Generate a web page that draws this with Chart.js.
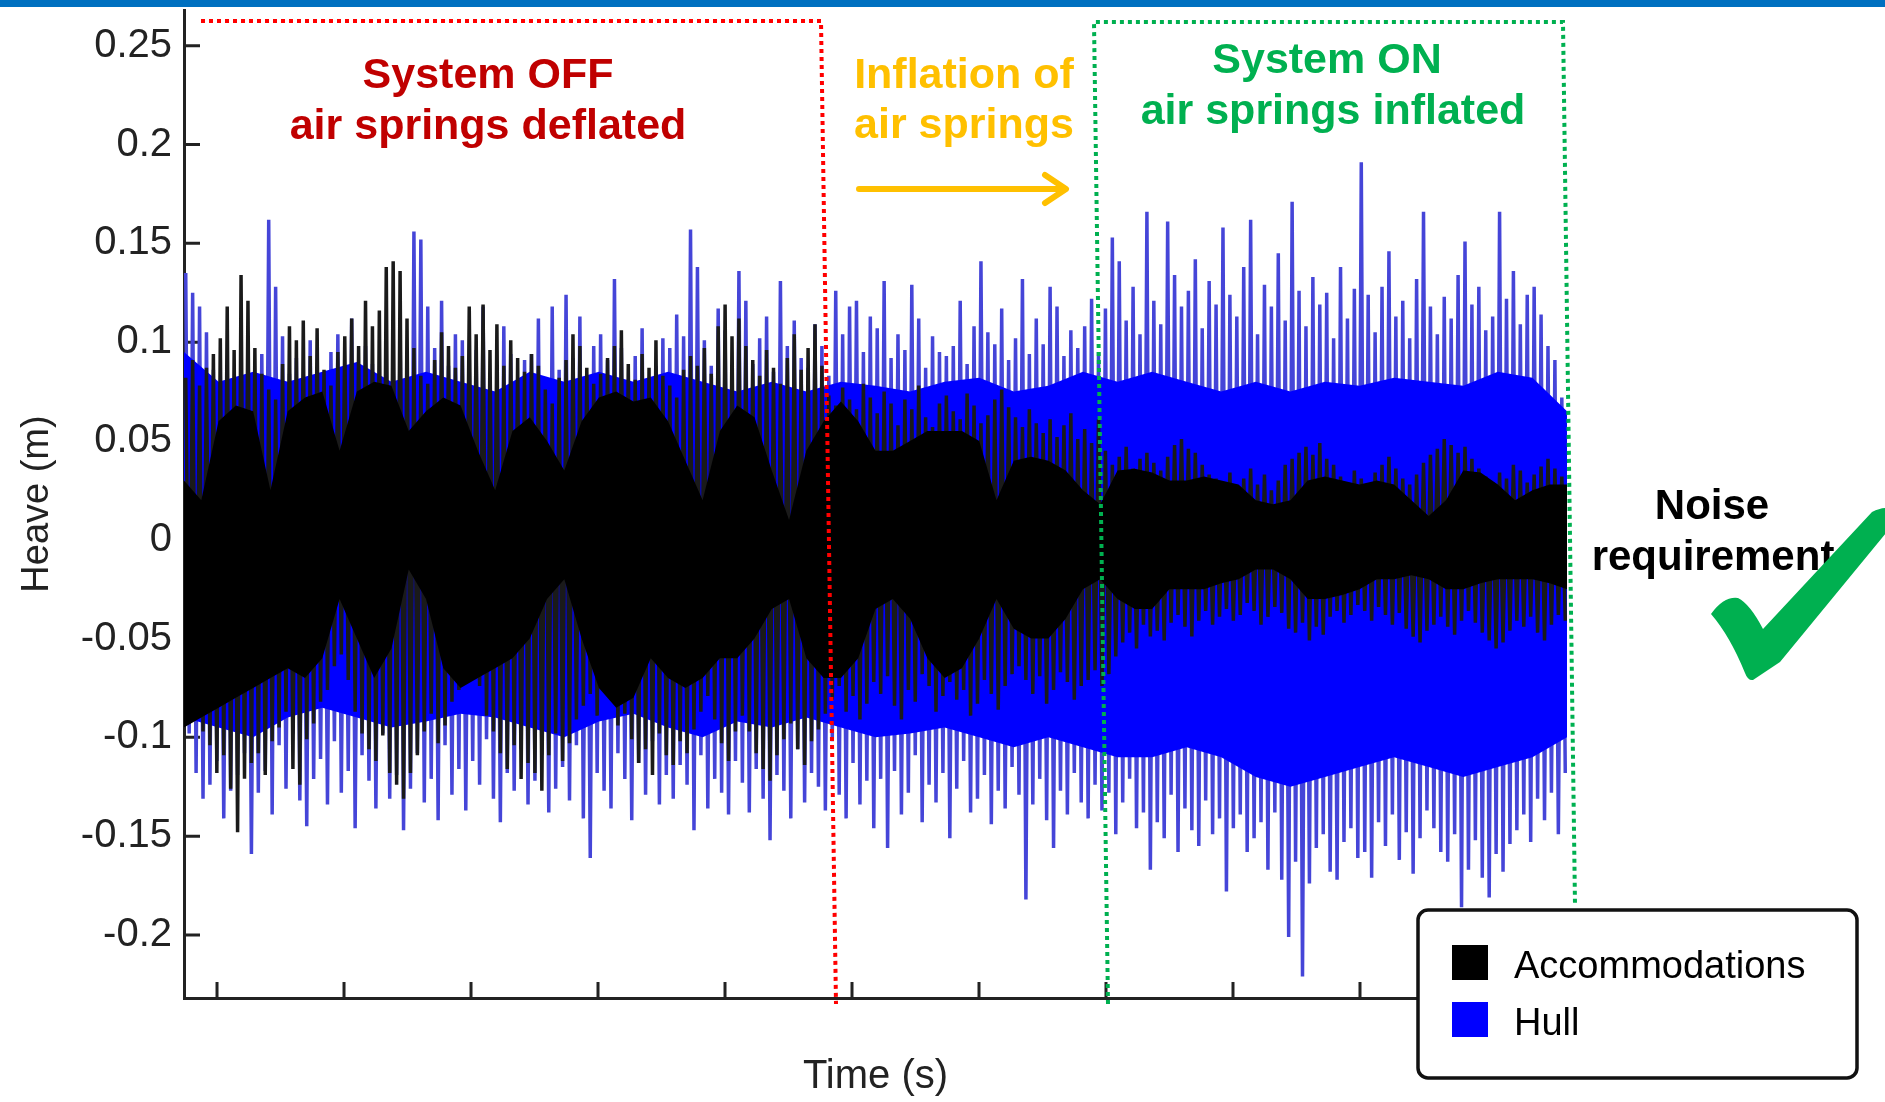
<!DOCTYPE html>
<html lang="en">
<head>
<meta charset="UTF-8">
<title>Heave - Accommodations vs Hull</title>
<script src="https://cdn.jsdelivr.net/npm/chart.js"></script>
<style>
  html, body { margin: 0; padding: 0; background: #fff; }
  #wrap { position: relative; width: 1885px; height: 1102px; }
  canvas { display: block; }
</style>
</head>
<body>
<div id="wrap"><canvas id="grafico" width="1885" height="1102"></canvas></div>

<script>
// --- data ----------------------------------------------------------------
const seriesNames = ['Accommodations', 'Hull'];
const yTicks = [-0.2, -0.15, -0.1, -0.05, 0, 0.05, 0.1, 0.15, 0.2, 0.25];
const xTicks = [0, 100, 200, 300, 400, 500, 600, 700, 800, 900, 1000];
const timeRange = [-26, 1063];
const heaveRange = [-0.2319, 0.2681];

// hull: local maxima / minima of each sample (200 samples)
const hullHi = [
  0.135, 0.125, 0.118, 0.105, 0.086, 0.072, 0.079, 0.066, 0.083, 0.074,
  0.082, 0.094, 0.162, 0.128, 0.103, 0.084, 0.092, 0.071, 0.101, 0.086,
  0.078, 0.095, 0.104, 0.083, 0.112, 0.076, 0.098, 0.089, 0.072, 0.085,
  0.092, 0.108, 0.095, 0.156, 0.152, 0.118, 0.097, 0.121, 0.088, 0.104,
  0.101, 0.087, 0.096, 0.118, 0.082, 0.079, 0.108, 0.094, 0.073, 0.091,
  0.094, 0.112, 0.081, 0.118, 0.086, 0.124, 0.092, 0.113, 0.079, 0.098,
  0.104, 0.091, 0.132, 0.097, 0.081, 0.093, 0.107, 0.076, 0.088, 0.102,
  0.097, 0.114, 0.103, 0.157, 0.138, 0.101, 0.088, 0.117, 0.106, 0.083,
  0.136, 0.121, 0.089, 0.102, 0.113, 0.085, 0.131, 0.098, 0.111, 0.092,
  0.087, 0.109, 0.098, 0.083, 0.126, 0.104, 0.118, 0.121, 0.095, 0.113,
  0.107, 0.131, 0.092, 0.104, 0.096, 0.129, 0.112, 0.087, 0.103, 0.095,
  0.093, 0.098, 0.121, 0.089, 0.108, 0.141, 0.105, 0.099, 0.117, 0.091,
  0.102, 0.132, 0.094, 0.112, 0.099, 0.128, 0.118, 0.093, 0.106, 0.097,
  0.108, 0.122, 0.095, 0.117, 0.153, 0.141, 0.111, 0.128, 0.104, 0.166,
  0.121, 0.109, 0.161, 0.134, 0.118, 0.126, 0.142, 0.107, 0.131, 0.119,
  0.158, 0.124, 0.113, 0.138, 0.162, 0.104, 0.129, 0.118, 0.145, 0.111,
  0.171, 0.126, 0.108, 0.133, 0.119, 0.125, 0.102, 0.138, 0.112, 0.127,
  0.191, 0.124, 0.105, 0.128, 0.146, 0.113, 0.121, 0.102, 0.132, 0.166,
  0.118, 0.104, 0.123, 0.112, 0.134, 0.151, 0.119, 0.128, 0.106, 0.113,
  0.166, 0.122, 0.136, 0.109, 0.124, 0.128, 0.114, 0.098, 0.091, 0.072
];
const hullLo = [
  -0.098, -0.118, -0.131, -0.124, -0.112, -0.141, -0.127, -0.119, -0.108, -0.159,
  -0.128, -0.117, -0.139, -0.104, -0.126, -0.098, -0.132, -0.145, -0.121, -0.111,
  -0.134, -0.102, -0.128, -0.117, -0.146, -0.109, -0.122, -0.136, -0.098, -0.131,
  -0.119, -0.147, -0.126, -0.108, -0.133, -0.121, -0.142, -0.104, -0.129, -0.116,
  -0.137, -0.112, -0.124, -0.101, -0.131, -0.143, -0.118, -0.127, -0.106, -0.134,
  -0.122, -0.109, -0.138, -0.126, -0.115, -0.132, -0.104, -0.141, -0.161, -0.118,
  -0.127, -0.136, -0.108, -0.121, -0.142, -0.113, -0.129, -0.102, -0.134, -0.119,
  -0.131, -0.114, -0.124, -0.147, -0.109, -0.136, -0.121, -0.128, -0.139, -0.112,
  -0.123, -0.138, -0.116, -0.131, -0.152, -0.119, -0.127, -0.141, -0.106, -0.133,
  -0.118, -0.125, -0.137, -0.102, -0.129, -0.141, -0.113, -0.134, -0.122, -0.146,
  -0.121, -0.156, -0.117, -0.139, -0.128, -0.109, -0.143, -0.124, -0.133, -0.118,
  -0.151, -0.126, -0.112, -0.138, -0.131, -0.119, -0.144, -0.127, -0.136, -0.115,
  -0.129, -0.182, -0.134, -0.121, -0.142, -0.156, -0.127, -0.139, -0.118, -0.133,
  -0.141, -0.124, -0.137, -0.128, -0.149, -0.133, -0.121, -0.146, -0.138, -0.167,
  -0.143, -0.151, -0.129, -0.158, -0.136, -0.147, -0.155, -0.132, -0.149, -0.141,
  -0.178, -0.146, -0.139, -0.158, -0.151, -0.143, -0.167, -0.138, -0.172, -0.201,
  -0.163, -0.221, -0.174, -0.156, -0.149, -0.168, -0.172, -0.153, -0.146, -0.161,
  -0.158, -0.171, -0.143, -0.155, -0.139, -0.162, -0.148, -0.169, -0.151, -0.137,
  -0.146, -0.158, -0.163, -0.149, -0.186, -0.167, -0.152, -0.171, -0.181, -0.159,
  -0.168, -0.154, -0.147, -0.139, -0.153, -0.131, -0.142, -0.128, -0.149, -0.118
];

// accommodations: local maxima / minima of each sample (200 samples)
const accHi = [
  0.082, 0.091, 0.078, 0.087, 0.094, 0.102, 0.118, 0.096, 0.134, 0.121,
  0.097, 0.084, 0.076, 0.071, 0.089, 0.108, 0.101, 0.111, 0.093, 0.107,
  0.086, 0.078, 0.095, 0.103, 0.112, 0.098, 0.121, 0.108, 0.116, 0.138,
  0.141, 0.136, 0.112, 0.097, 0.083, 0.079, 0.091, 0.105, 0.098, 0.087,
  0.093, 0.118, 0.104, 0.119, 0.096, 0.109, 0.088, 0.101, 0.092, 0.085,
  0.094, 0.088, 0.076, 0.069, 0.082, 0.091, 0.104, 0.098, 0.087, 0.079,
  0.084, 0.092, 0.098, 0.106, 0.089, 0.081, 0.094, 0.087, 0.101, 0.083,
  0.078, 0.072, 0.086, 0.093, 0.088, 0.097, 0.084, 0.108, 0.119, 0.103,
  0.112, 0.098, 0.091, 0.083, 0.096, 0.087, 0.079, 0.092, 0.104, 0.086,
  0.097, 0.109, 0.088, 0.073, 0.068, 0.077, 0.071, 0.066, 0.079, 0.072,
  0.064, 0.075, 0.069, 0.058, 0.071, 0.066, 0.078, 0.062, 0.057, 0.069,
  0.073, 0.065, 0.061, 0.074, 0.068, 0.059, 0.063, 0.071, 0.076, 0.067,
  0.062, 0.057, 0.066, 0.059, 0.054, 0.061, 0.052, 0.058, 0.064, 0.051,
  0.056, 0.049, 0.061, 0.045, 0.038, 0.042, 0.047, 0.036, 0.041, 0.044,
  0.039, 0.035, 0.042, 0.048, 0.051, 0.046, 0.044, 0.038, 0.033, 0.031,
  0.029, 0.034, 0.027, 0.031, 0.036, 0.028, 0.033, 0.025, 0.030, 0.038,
  0.041, 0.044, 0.047, 0.043, 0.049, 0.041, 0.038, 0.032, 0.029, 0.035,
  0.031, 0.027, 0.034, 0.038, 0.042, 0.036, 0.031, 0.028, 0.033, 0.039,
  0.043, 0.046, 0.051, 0.048, 0.044, 0.047, 0.041, 0.036, 0.032, 0.029,
  0.034, 0.031, 0.038, 0.035, 0.029, 0.033, 0.037, 0.041, 0.036, 0.032
];
const accLo = [
  -0.072, -0.089, -0.097, -0.104, -0.118, -0.109, -0.126, -0.148, -0.121, -0.113,
  -0.108, -0.119, -0.102, -0.095, -0.087, -0.116, -0.124, -0.101, -0.093, -0.082,
  -0.076, -0.064, -0.058, -0.071, -0.087, -0.098, -0.106, -0.112, -0.099, -0.118,
  -0.124, -0.131, -0.118, -0.109, -0.097, -0.088, -0.103, -0.094, -0.082, -0.076,
  -0.069, -0.061, -0.074, -0.089, -0.097, -0.108, -0.116, -0.104, -0.121, -0.113,
  -0.118, -0.127, -0.109, -0.098, -0.112, -0.103, -0.091, -0.084, -0.078, -0.089,
  -0.072, -0.081, -0.094, -0.088, -0.101, -0.113, -0.106, -0.119, -0.098, -0.109,
  -0.114, -0.102, -0.108, -0.096, -0.087, -0.079, -0.091, -0.103, -0.112, -0.097,
  -0.089, -0.097, -0.108, -0.116, -0.122, -0.109, -0.101, -0.093, -0.106, -0.114,
  -0.102, -0.096, -0.088, -0.081, -0.074, -0.087, -0.079, -0.091, -0.083, -0.072,
  -0.078, -0.069, -0.084, -0.091, -0.076, -0.082, -0.068, -0.074, -0.087, -0.079,
  -0.072, -0.081, -0.076, -0.089, -0.083, -0.071, -0.078, -0.086, -0.074, -0.068,
  -0.064, -0.071, -0.078, -0.069, -0.083, -0.076, -0.067, -0.072, -0.081, -0.074,
  -0.071, -0.066, -0.074, -0.068, -0.059, -0.052, -0.047, -0.055, -0.043, -0.049,
  -0.046, -0.051, -0.042, -0.038, -0.044, -0.049, -0.041, -0.036, -0.043, -0.039,
  -0.035, -0.041, -0.038, -0.032, -0.036, -0.043, -0.039, -0.034, -0.037, -0.045,
  -0.047, -0.042, -0.051, -0.044, -0.048, -0.039, -0.036, -0.042, -0.038, -0.033,
  -0.036, -0.041, -0.034, -0.038, -0.043, -0.037, -0.045, -0.049, -0.052, -0.046,
  -0.043, -0.039, -0.044, -0.048, -0.041, -0.036, -0.042, -0.047, -0.051, -0.055,
  -0.052, -0.046, -0.041, -0.044, -0.039, -0.047, -0.051, -0.043, -0.038, -0.041
];

// solid inner envelope of the hull (41 points, every 5 samples)
const hullCoreHi = [
  0.095, 0.080, 0.085, 0.080, 0.085, 0.090, 0.080, 0.085, 0.080, 0.075,
  0.085, 0.080, 0.085, 0.080, 0.085, 0.080, 0.075, 0.080, 0.075, 0.080,
  0.078, 0.075, 0.080, 0.082, 0.075, 0.078, 0.085, 0.080, 0.085, 0.080,
  0.075, 0.080, 0.075, 0.080, 0.078, 0.082, 0.080, 0.078, 0.085, 0.082,
  0.065
];
const hullCoreLo = [
  -0.090, -0.095, -0.100, -0.090, -0.085, -0.090, -0.095, -0.092, -0.088, -0.090,
  -0.095, -0.100, -0.092, -0.088, -0.095, -0.100, -0.092, -0.095, -0.090, -0.095,
  -0.100, -0.098, -0.095, -0.100, -0.105, -0.100, -0.105, -0.110, -0.110, -0.105,
  -0.110, -0.120, -0.125, -0.120, -0.115, -0.110, -0.115, -0.120, -0.115, -0.110,
  -0.100
];

// solid inner envelope of the accommodations (81 points, every 2.5 samples)
const accCoreHi = [
  0.030, 0.020, 0.060, 0.068, 0.065, 0.025, 0.065, 0.072, 0.075, 0.045,
  0.075, 0.080, 0.078, 0.055, 0.065, 0.072, 0.068, 0.045, 0.025, 0.055,
  0.062, 0.050, 0.035, 0.060, 0.072, 0.075, 0.070, 0.072, 0.060, 0.040,
  0.020, 0.055, 0.068, 0.062, 0.035, 0.010, 0.045, 0.060, 0.070, 0.060,
  0.045, 0.045, 0.050, 0.055, 0.055, 0.055, 0.050, 0.020, 0.040, 0.042,
  0.040, 0.035, 0.025, 0.018, 0.035, 0.036, 0.034, 0.030, 0.030, 0.032,
  0.030, 0.028, 0.020, 0.018, 0.020, 0.030, 0.032, 0.030, 0.028, 0.030,
  0.028, 0.020, 0.012, 0.020, 0.035, 0.034, 0.028, 0.020, 0.025, 0.028,
  0.028
];
const accCoreLo = [
  -0.095, -0.090, -0.085, -0.080, -0.075, -0.070, -0.065, -0.070, -0.060, -0.030,
  -0.050, -0.070, -0.055, -0.015, -0.030, -0.065, -0.075, -0.070, -0.065, -0.060,
  -0.050, -0.030, -0.020, -0.050, -0.075, -0.085, -0.080, -0.060, -0.070, -0.075,
  -0.070, -0.060, -0.060, -0.050, -0.035, -0.030, -0.060, -0.070, -0.070, -0.060,
  -0.035, -0.030, -0.040, -0.060, -0.070, -0.065, -0.050, -0.030, -0.045, -0.050,
  -0.050, -0.040, -0.025, -0.020, -0.030, -0.035, -0.035, -0.025, -0.025, -0.025,
  -0.022, -0.020, -0.015, -0.015, -0.020, -0.030, -0.030, -0.028, -0.025, -0.020,
  -0.020, -0.018, -0.020, -0.025, -0.025, -0.022, -0.020, -0.020, -0.020, -0.022,
  -0.025
];

// --- build the point lists the library needs ------------------------------
const FONT = "'Liberation Sans', Arial, Helvetica, sans-serif";
const span = timeRange[1] - timeRange[0];

function zigzag(hi, lo) {
  const dt = span / hi.length;
  const pts = [];
  hi.forEach((h, i) => {
    pts.push({ x: timeRange[0] + (i + 0.25) * dt, y: h });
    pts.push({ x: timeRange[0] + (i + 0.75) * dt, y: lo[i] });
  });
  return pts;
}

function band(vals) {
  const step = span / (vals.length - 1);
  return vals.map((v, k) => ({ x: timeRange[0] + k * step, y: v }));
}

// inward tick marks, MATLAB style
const inwardTicks = {
  id: 'inwardTicks',
  beforeDatasetsDraw(chart) {
    const { ctx, scales: { x, y } } = chart;
    ctx.save();
    ctx.strokeStyle = '#222';
    ctx.lineWidth = 3;
    ctx.beginPath();
    yTicks.forEach(v => {
      const py = y.getPixelForValue(v);
      ctx.moveTo(x.left, py);
      ctx.lineTo(x.left + 16, py);
    });
    xTicks.forEach(v => {
      const px = x.getPixelForValue(v);
      ctx.moveTo(px, y.bottom);
      ctx.lineTo(px, y.bottom - 16);
    });
    ctx.stroke();
    ctx.restore();
  }
};

function dotted(ctx, color, pts) {
  ctx.save();
  ctx.strokeStyle = color;
  ctx.lineWidth = 4;
  ctx.setLineDash([4, 4]);
  ctx.beginPath();
  ctx.moveTo(pts[0][0], pts[0][1]);
  for (let i = 1; i < pts.length; i++) ctx.lineTo(pts[i][0], pts[i][1]);
  ctx.stroke();
  ctx.restore();
}

function label(ctx, text, x, y, color, size, align) {
  ctx.fillStyle = color;
  ctx.font = 'bold ' + size + 'px ' + FONT;
  ctx.textAlign = align || 'center';
  ctx.textBaseline = 'alphabetic';
  ctx.fillText(text, x, y);
}

// annotations, legend and page decorations
const annotations = {
  id: 'annotations',
  afterDraw(chart) {
    const ctx = chart.ctx;
    ctx.save();

    // blue strip at top of slide
    ctx.fillStyle = '#0070c0';
    ctx.fillRect(0, 0, 1885, 7);

    // dotted phase boxes
    dotted(ctx, '#ff0000', [[201, 21], [821, 21], [836, 1004]]);
    dotted(ctx, '#00b050', [[1108, 1004], [1094, 22], [1563, 22], [1575, 905]]);

    // phase labels
    label(ctx, 'System OFF', 488, 88, '#c00000', 43);
    label(ctx, 'air springs deflated', 488, 139, '#c00000', 43);
    label(ctx, 'Inflation of', 964, 88, '#ffc000', 43);
    label(ctx, 'air springs', 964, 138, '#ffc000', 43);
    label(ctx, 'System ON', 1327, 73, '#00b050', 43);
    label(ctx, 'air springs inflated', 1333, 124, '#00b050', 43);
    label(ctx, 'Noise', 1712, 519, '#000', 42);
    label(ctx, 'requirement', 1713, 570, '#000', 42);

    // orange arrow
    ctx.strokeStyle = '#ffc000';
    ctx.lineWidth = 6;
    ctx.lineCap = 'round';
    ctx.lineJoin = 'round';
    ctx.beginPath();
    ctx.moveTo(859, 189);
    ctx.lineTo(1064, 189);
    ctx.moveTo(1045, 175);
    ctx.lineTo(1066, 189);
    ctx.lineTo(1045, 203);
    ctx.stroke();

    // green tick
    ctx.fillStyle = '#00b050';
    ctx.beginPath();
    ctx.moveTo(1711, 614);
    ctx.quadraticCurveTo(1724, 596, 1738, 598);
    ctx.quadraticCurveTo(1750, 604, 1763, 629);
    ctx.lineTo(1872, 512);
    ctx.quadraticCurveTo(1880, 508, 1886, 508);
    ctx.lineTo(1886, 533);
    ctx.lineTo(1780, 662);
    ctx.lineTo(1753, 680);
    ctx.quadraticCurveTo(1748, 681, 1745, 673);
    ctx.quadraticCurveTo(1730, 636, 1711, 614);
    ctx.closePath();
    ctx.fill();

    // legend
    const bx = 1418, by = 910, bw = 439, bh = 168, r = 10;
    ctx.beginPath();
    ctx.moveTo(bx + r, by);
    ctx.arcTo(bx + bw, by, bx + bw, by + bh, r);
    ctx.arcTo(bx + bw, by + bh, bx, by + bh, r);
    ctx.arcTo(bx, by + bh, bx, by, r);
    ctx.arcTo(bx, by, bx + bw, by, r);
    ctx.closePath();
    ctx.fillStyle = '#fff';
    ctx.fill();
    ctx.lineWidth = 3.5;
    ctx.strokeStyle = '#111';
    ctx.stroke();

    const swatch = ['#000000', '#0000ff'];
    seriesNames.forEach((name, i) => {
      const y0 = 945 + i * 57;
      ctx.fillStyle = swatch[i];
      ctx.fillRect(1452, y0, 36, 35);
      ctx.fillStyle = '#000';
      ctx.font = '38px ' + FONT;
      ctx.textAlign = 'left';
      ctx.textBaseline = 'alphabetic';
      ctx.fillText(name, 1514, y0 + 33);
    });

    ctx.restore();
  }
};

Chart.defaults.font.family = FONT;
Chart.defaults.color = '#222';

const transparent = 'rgba(0,0,0,0)';

new Chart(document.getElementById('grafico').getContext('2d'), {
  type: 'line',
  data: {
    datasets: [
      { label: seriesNames[0], data: zigzag(accHi, accLo), borderColor: '#1a1a1a',
        borderWidth: 3.5, borderJoinStyle: 'bevel', fill: false, order: 2 },
      { label: seriesNames[0] + ' core', data: band(accCoreHi), borderColor: transparent,
        borderWidth: 0, backgroundColor: '#000000', fill: '+1', order: 1 },
      { label: seriesNames[0] + ' core lo', data: band(accCoreLo), borderColor: transparent,
        borderWidth: 0, fill: false, order: 1 },
      { label: seriesNames[1], data: zigzag(hullHi, hullLo), borderColor: '#4545d8',
        borderWidth: 3.5, borderJoinStyle: 'bevel', fill: false, order: 4 },
      { label: seriesNames[1] + ' core', data: band(hullCoreHi), borderColor: transparent,
        borderWidth: 0, backgroundColor: '#0000ff', fill: '+1', order: 3 },
      { label: seriesNames[1] + ' core lo', data: band(hullCoreLo), borderColor: transparent,
        borderWidth: 0, fill: false, order: 3 }
    ]
  },
  options: {
    responsive: false,
    animation: false,
    devicePixelRatio: 1,
    events: [],
    layout: { padding: { top: 10, right: 318, bottom: 0, left: 0 } },
    elements: { point: { radius: 0 }, line: { tension: 0 } },
    plugins: { legend: { display: false }, tooltip: { enabled: false } },
    scales: {
      x: {
        type: 'linear',
        min: timeRange[0],
        max: timeRange[1],
        z: 1,
        grid: { display: false, drawTicks: false },
        border: { display: true, color: '#222', width: 3 },
        ticks: { display: false },
        afterBuildTicks: s => { s.ticks = xTicks.map(v => ({ value: v })); },
        afterFit: s => { s.height = 104; s.paddingLeft = 0; s.paddingRight = 0; },
        title: { display: true, text: 'Time (s)', color: '#222',
                 font: { size: 40 }, padding: { top: 0, bottom: 1 } }
      },
      y: {
        type: 'linear',
        min: heaveRange[0],
        max: heaveRange[1],
        z: 1,
        grid: { display: false, drawTicks: false },
        border: { display: true, color: '#222', width: 3 },
        ticks: {
          padding: 12,
          color: '#222',
          font: { size: 40 },
          callback: v => String(Math.round(v * 100) / 100)
        },
        afterBuildTicks: s => { s.ticks = yTicks.map(v => ({ value: v })); },
        afterFit: s => { s.width = 184; s.paddingTop = 0; s.paddingBottom = 0; },
        title: { display: true, text: 'Heave (m)', color: '#222',
                 font: { size: 38 }, padding: { top: 15, bottom: 0 } }
      }
    }
  },
  plugins: [inwardTicks, annotations]
});
</script>
</body>
</html>
